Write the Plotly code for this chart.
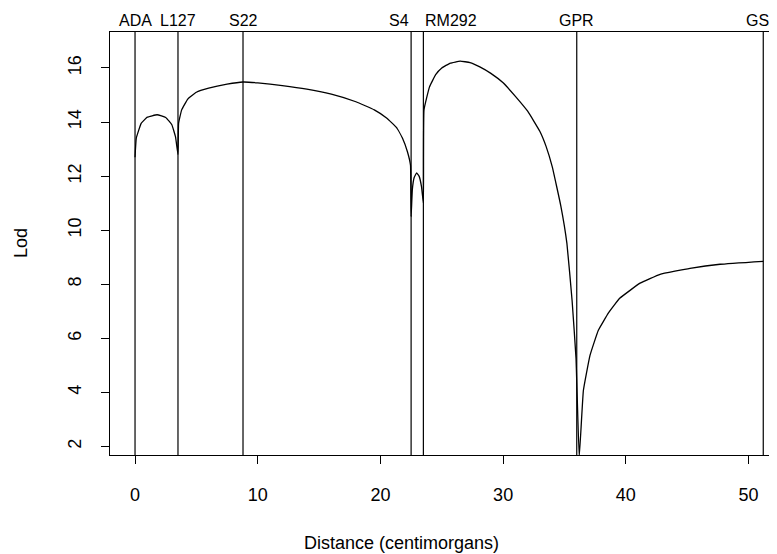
import plotly.graph_objects as go

# LOD profile (distance in cM, LOD score)
distance = [0.0, 0.1, 0.5, 1.0, 1.8, 2.5, 3.0, 3.3, 3.5,
            3.55, 3.8, 4.3, 5.0, 6.0, 7.5, 8.8, 10.0, 12.0, 14.0, 16.0, 18.0,
            19.5, 20.5, 21.3, 21.8, 22.2, 22.45,
            22.5, 22.6, 22.75, 22.95, 23.15, 23.35, 23.5,
            23.55, 24.0, 24.5, 25.0, 25.7, 26.5, 27.3, 28.1, 29.0, 30.0,
            31.0, 32.0, 33.0, 33.5, 34.0, 34.7, 35.2, 35.62, 35.94,
            36.2, 36.54, 37.08, 37.76, 38.6, 39.5, 41.16, 42.79, 45.23,
            47.68, 51.2]
lod = [12.7, 13.4, 13.95, 14.18, 14.27, 14.17, 13.9, 13.45, 12.8,
       13.95, 14.45, 14.85, 15.1, 15.25, 15.4, 15.48, 15.45, 15.35, 15.22,
       15.03, 14.75, 14.45, 14.15, 13.8, 13.4, 12.9, 12.4,
       10.5, 11.5, 11.95, 12.12, 12.0, 11.6, 11.0,
       14.45, 15.3, 15.75, 16.0, 16.18, 16.25, 16.2, 16.04, 15.8, 15.45,
       14.95, 14.4, 13.65, 13.1, 12.35, 10.9, 9.5, 7.4, 5.26,
       1.6, 4.07, 5.37, 6.3, 6.95, 7.48, 8.04, 8.37, 8.59,
       8.74, 8.85]

# markers
marker_names = ["ADA", "L127", "S22", "S4", "RM292", "GPR", "GSA"]
marker_pos = [0.0, 3.5, 8.8, 22.5, 23.5, 36.0, 51.2]
marker_anchor = ["center", "center", "center", "right", "left", "center", "center"]

x_ticks = [0, 10, 20, 30, 40, 50]
y_ticks = [2, 4, 6, 8, 10, 12, 14, 16]

FONT = "Liberation Sans, Arial, Helvetica, sans-serif"

fig = go.Figure()
fig.add_trace(go.Scatter(x=distance, y=lod, mode="lines",
                         line=dict(color="black", width=1.3, shape="spline",
                                   smoothing=0.3),
                         hoverinfo="skip", showlegend=False))

shapes = []
annotations = []
for name, pos, anc in zip(marker_names, marker_pos, marker_anchor):
    shapes.append(dict(type="line", xref="x", yref="paper", x0=pos, x1=pos,
                       y0=0, y1=1, line=dict(color="black", width=1.2)))
    annotations.append(dict(text=name, x=pos, xref="x", y=1, yref="paper",
                            xanchor=anc, yanchor="middle", yshift=12,
                            showarrow=False,
                            font=dict(family=FONT, size=16, color="black")))

annotations.append(dict(text="Lod", x=-0.134, xref="paper", y=0.5, yref="paper",
                        xanchor="center", yanchor="middle", textangle=-90,
                        showarrow=False,
                        font=dict(family=FONT, size=18, color="black")))
annotations.append(dict(text="Distance (centimorgans)", x=0.4363, xref="paper",
                        y=-0.208, yref="paper", xanchor="center", yanchor="middle",
                        showarrow=False,
                        font=dict(family=FONT, size=18, color="black")))

fig.update_layout(
    width=769, height=546,
    margin=dict(l=102, r=0, t=24, b=99),
    paper_bgcolor="white", plot_bgcolor="white",
    shapes=shapes, annotations=annotations,
    xaxis=dict(range=[-2.04, 52.32], tickvals=x_ticks,
               ticks="outside", ticklen=8, tickcolor="black", tickwidth=1,
               showline=True, linecolor="black", linewidth=1, mirror=True,
               showgrid=False, zeroline=False, ticklabelstandoff=15,
               tickfont=dict(family=FONT, size=18, color="black")),
    yaxis=dict(range=[1.685, 17.33], tickvals=y_ticks, tickangle=-90,
               ticks="outside", ticklen=8, tickcolor="black", tickwidth=1,
               showline=True, linecolor="black", linewidth=1, mirror=False,
               showgrid=False, zeroline=False, ticklabelstandoff=13,
               tickfont=dict(family=FONT, size=18, color="black")),
)

fig.write_html("out.html")
